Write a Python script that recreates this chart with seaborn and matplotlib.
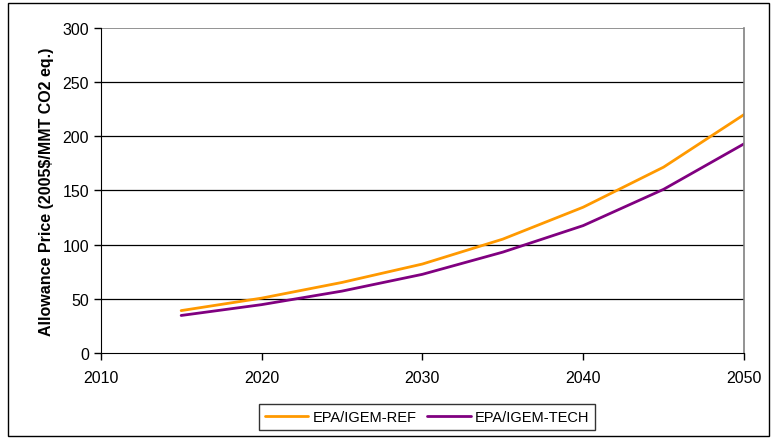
import matplotlib
matplotlib.use("Agg")
import matplotlib.pyplot as plt
import seaborn as sns
import pandas as pd
from matplotlib.patches import Rectangle

years = [2015, 2020, 2025, 2030, 2035, 2040, 2045, 2050]
ref = [39, 50.5, 65, 82, 105, 134.5, 171.5, 220]
tech = [34.5, 44.5, 57, 72.5, 93, 117.5, 151, 193]
series_names = ["EPA/IGEM-REF", "EPA/IGEM-TECH"]
colors = ["#FF9900", "#800080"]

df = pd.DataFrame({"Year": years * 2,
                   "Price": ref + tech,
                   "Scenario": [series_names[0]] * len(years) + [series_names[1]] * len(years)})

sns.set_style("white")
plt.rcParams["font.family"] = ["Liberation Sans", "DejaVu Sans"]
plt.rcParams["text.color"] = "black"
plt.rcParams["axes.labelcolor"] = "black"
plt.rcParams["xtick.color"] = "black"
plt.rcParams["ytick.color"] = "black"

fig = plt.figure(figsize=(7.75, 4.39), dpi=100)
ax = fig.add_axes([0.130, 0.194, 0.830, 0.740])

sns.lineplot(data=df, x="Year", y="Price", hue="Scenario", palette=colors,
             linewidth=2, ax=ax, legend=True)

ax.set_xlim(2010, 2050)
ax.set_ylim(0, 300)
ax.set_xticks([2010, 2020, 2030, 2040, 2050])
ax.set_yticks(range(0, 301, 50))
for v in range(50, 300, 50):
    ax.axhline(v, color="black", linewidth=0.9, zorder=0)
ax.axhline(300, color="#808080", linewidth=1.2, zorder=0)

ax.spines["top"].set_visible(False)
ax.spines["right"].set_color("#808080")
ax.spines["right"].set_linewidth(1.2)
ax.spines["left"].set_color("black")
ax.spines["bottom"].set_color("black")
ax.tick_params(axis="both", direction="out", length=5, width=1, color="black",
               labelsize=11.5, bottom=True, left=True)
ax.tick_params(axis="x", pad=7)
ax.set_xlabel("")
ax.set_ylabel("Allowance Price (2005$/MMT CO2 eq.)", fontsize=11.5, fontweight="bold",
              labelpad=6)

leg = ax.legend(loc="center", bbox_to_anchor=(0.551, 0.048), bbox_transform=fig.transFigure,
                ncol=2, frameon=True, fancybox=False, fontsize=10.5, handlelength=3,
                handletextpad=0.3, columnspacing=0.7, borderpad=0.4)
leg.get_frame().set_edgecolor("black")
leg.get_frame().set_linewidth(1)

fig.patches.append(Rectangle((0.010, 0.005), 0.982, 0.985, transform=fig.transFigure,
                             fill=False, edgecolor="black", linewidth=1))

fig.savefig("out.png", dpi=100)
